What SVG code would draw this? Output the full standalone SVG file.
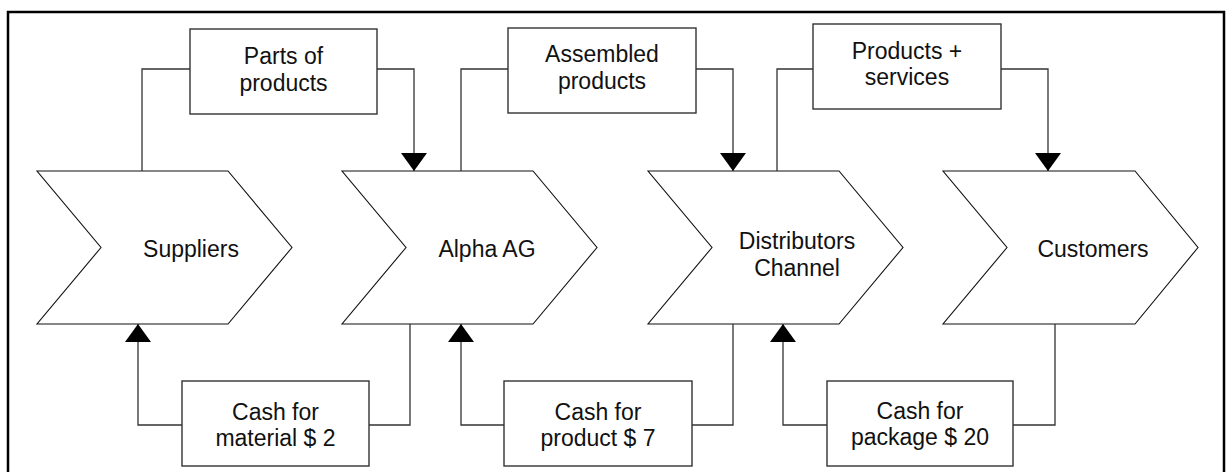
<svg xmlns="http://www.w3.org/2000/svg" width="1229" height="472" viewBox="0 0 1229 472">
  <style>
    .frame { fill: none; stroke: #000; stroke-width: 2.5; }
    .chev { fill: #fff; stroke: #111; stroke-width: 1.1; }
    .box { fill: #fff; stroke: #333; stroke-width: 1.4; }
    .wire { fill: none; stroke: #333; stroke-width: 1.3; }
    .lbl { font-family: "Liberation Sans", Arial, sans-serif; font-size: 23px; fill: #111; text-anchor: middle; }
  </style>
  <defs>
    <marker id="head" viewBox="0 0 18 26" refX="18" refY="13" markerWidth="18" markerHeight="26" markerUnits="userSpaceOnUse" orient="auto">
      <path d="M0,0 L18,13 L0,26 Z" fill="#000"/>
    </marker>
  </defs>

  <rect width="1229" height="472" fill="#fff"/>
  <path class="frame" d="M8,480 V12 H1224 V480"/>

  <!-- value chain stages -->
  <g id="suppliers">
    <polygon class="chev" points="37,171 228,171 292,247.5 228,324 37,324 101,247.5"/>
    <text class="lbl" x="191" y="256.5">Suppliers</text>
  </g>
  <g id="alpha-ag">
    <polygon class="chev" points="342,171 533,171 597,247.5 533,324 342,324 406,247.5"/>
    <text class="lbl" x="487" y="256.5">Alpha AG</text>
  </g>
  <g id="distributors">
    <polygon class="chev" points="648,171 839,171 903,247.5 839,324 648,324 712,247.5"/>
    <text class="lbl" x="797" y="249">Distributors</text>
    <text class="lbl" x="797" y="276">Channel</text>
  </g>
  <g id="customers">
    <polygon class="chev" points="943,171 1135,171 1198,247.5 1135,324 943,324 1007,247.5"/>
    <text class="lbl" x="1093" y="256.5">Customers</text>
  </g>

  <!-- goods flow boxes -->
  <g id="parts">
    <rect class="box" x="190" y="29" width="187" height="85"/>
    <text class="lbl" x="283.5" y="63.5">Parts of</text>
    <text class="lbl" x="283.5" y="90.5">products</text>
  </g>
  <g id="assembled">
    <rect class="box" x="508" y="28" width="188" height="85"/>
    <text class="lbl" x="602" y="62">Assembled</text>
    <text class="lbl" x="602" y="88.5">products</text>
  </g>
  <g id="products-services">
    <rect class="box" x="813" y="24" width="188" height="85"/>
    <text class="lbl" x="907" y="58.5">Products +</text>
    <text class="lbl" x="907" y="85">services</text>
  </g>

  <!-- cash flow boxes -->
  <g id="cash-material">
    <rect class="box" x="182" y="381" width="187" height="85"/>
    <text class="lbl" x="275.5" y="419.5">Cash for</text>
    <text class="lbl" x="275.5" y="445.5">material $ 2</text>
  </g>
  <g id="cash-product">
    <rect class="box" x="504" y="381" width="188" height="85"/>
    <text class="lbl" x="598" y="419.5">Cash for</text>
    <text class="lbl" x="598" y="445.5">product $ 7</text>
  </g>
  <g id="cash-package">
    <rect class="box" x="827" y="381" width="186" height="85"/>
    <text class="lbl" x="920" y="419">Cash for</text>
    <text class="lbl" x="920" y="445">package $ 20</text>
  </g>

  <g id="connectors">
    <path class="wire" d="M142,171 V69 H190"/>
    <path class="wire" d="M377,69 H414 V171" marker-end="url(#head)"/>
    <path class="wire" d="M461,171 V69 H508"/>
    <path class="wire" d="M696,69 H733 V171" marker-end="url(#head)"/>
    <path class="wire" d="M777,171 V69 H813"/>
    <path class="wire" d="M1001,69 H1048 V171" marker-end="url(#head)"/>

    <path class="wire" d="M410,324 V425 H369"/>
    <path class="wire" d="M182,425 H138 V324" marker-end="url(#head)"/>
    <path class="wire" d="M733,324 V425 H692"/>
    <path class="wire" d="M504,425 H461 V324" marker-end="url(#head)"/>
    <path class="wire" d="M1055,324 V425 H1013"/>
    <path class="wire" d="M827,425 H783 V324" marker-end="url(#head)"/>
  </g>
</svg>
